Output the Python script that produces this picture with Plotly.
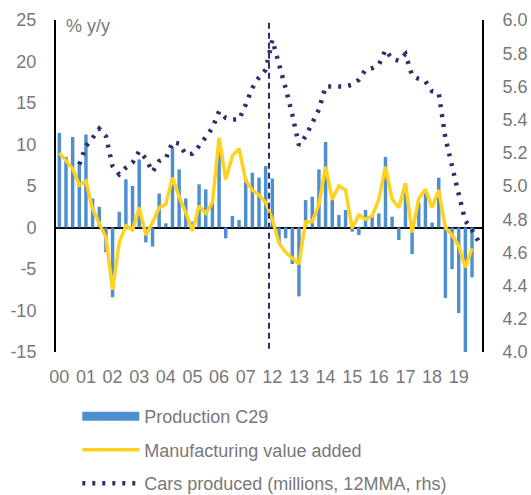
import plotly.graph_objects as go

# ---- data -------------------------------------------------------------
years = ["00", "01", "02", "03", "04", "05", "06", "07",
         "12", "13", "14", "15", "16", "17", "18", "19"]
quarters = [f"{y}Q{q}" for y in years for q in range(1, 5)]

# Production C29, % y/y (quarterly, 00Q1 .. 19Q3)
production_c29 = [
    11.4, 8.5, 10.9, 7.8, 11.2, 3.5, 2.5, -3.0,
    -8.4, 1.9, 5.8, 5.0, 8.2, -1.8, -2.3, 4.1,
    0.5, 9.7, 7.0, 3.5, 0.7, 5.2, 4.6, 3.0,
    9.3, -1.3, 1.4, 0.9, 5.8, 6.6, 6.0, 7.4,
    5.9, -1.9, -1.3, -4.4, -8.3, 3.3, 3.7, 7.0,
    10.3, 3.3, 1.5, 2.1, -0.5, -0.9, 2.1, 1.5,
    1.7, 8.5, 1.3, -1.5, 5.3, -3.2, 3.0, 4.5,
    0.6, 6.0, -8.5, -5.0, -10.3, -15.2, -6.0,
]

# Manufacturing value added, % y/y
manufacturing_va = [
    9.0, 8.1, 7.1, 5.1, 5.6, 2.2, 0.5, -1.2,
    -7.5, -1.8, 0.2, -0.3, 2.4, -0.9, 0.6, 2.4,
    2.8, 6.0, 3.7, 1.8, -0.4, 2.6, 1.7, 3.0,
    10.8, 5.8, 8.6, 9.5, 5.7, 4.5, 3.9, 3.0,
    1.0, -1.9, -3.0, -3.7, -4.4, 0.7, 0.7, 2.8,
    7.3, 3.4, 5.0, 4.5, -0.1, 1.5, 1.0, 1.4,
    3.4, 7.3, 3.4, 2.4, 5.3, -0.6, 3.5, 4.6,
    2.4, 4.5, 0.0, -0.9, -2.2, -4.8, -2.5,
]

# Cars produced, millions, 12MMA (rhs)
cars_produced = [
    None, None, None, 5.13, 5.24, 5.29, 5.345, 5.30,
    5.12, 5.07, 5.11, 5.14, 5.21, 5.165, 5.085, 5.15,
    5.165, 5.265, 5.255, 5.19, 5.195, 5.24, 5.30, 5.35,
    5.45, 5.41, 5.40, 5.40, 5.49, 5.59, 5.655, 5.70,
    5.88, 5.74, 5.59, 5.43, 5.245, 5.30, 5.38, 5.46,
    5.60, 5.60, 5.60, 5.60, 5.61, 5.64, 5.70, 5.71,
    5.73, 5.82, 5.765, 5.755, 5.795, 5.665, 5.645, 5.63,
    5.57, 5.56, 5.29, 5.11, 4.95, 4.79, 4.735, 4.665,
]

left_ticks = [-15, -10, -5, 0, 5, 10, 15, 20, 25]
right_ticks = [4.0, 4.2, 4.4, 4.6, 4.8, 5.0, 5.2, 5.4, 5.6, 5.8, 6.0]
break_position = 31.5   # break between 07 and 12

# ---- style ------------------------------------------------------------
BLUE = "#4E8FD0"
YELLOW = "#FFD21F"
NAVY = "#2B306C"
GREY = "#787878"
FONT = "Liberation Sans, Arial, sans-serif"

fig = go.Figure()

# legend key for the bars (wide bar-like swatch), listed first in the legend
fig.add_trace(go.Scatter(
    x=[None], y=[None], mode="lines",
    line=dict(color=BLUE, width=9),
    name="Production C29", legendgroup="g1",
))
fig.add_trace(go.Bar(
    x=quarters[:len(production_c29)], y=production_c29,
    marker=dict(color=BLUE, line=dict(width=0)),
    name="Production C29", showlegend=False, legendgroup="g1",
))
fig.add_trace(go.Scatter(
    x=quarters[:len(manufacturing_va)], y=manufacturing_va,
    mode="lines", line=dict(color=YELLOW, width=3.5),
    name="Manufacturing value added", legendgroup="g2",
))
fig.add_trace(go.Scatter(
    x=quarters, y=cars_produced, yaxis="y2",
    mode="lines", line=dict(color=NAVY, width=4.5, dash="3px,7px"),
    connectgaps=False,
    name="Cars produced (millions, 12MMA, rhs)", legendgroup="g3",
))

fig.add_shape(
    type="line", xref="x", yref="paper",
    x0=break_position, x1=break_position, y0=0.01, y1=1,
    line=dict(color=NAVY, width=2, dash="6px,4px"),
)

fig.add_annotation(
    text="% y/y", xref="paper", yref="paper",
    x=0.019, y=0.982, xanchor="left", yanchor="middle",
    showarrow=False, font=dict(size=18, color=GREY, family=FONT),
)

fig.update_layout(
    width=531, height=495,
    margin=dict(l=56, r=49, t=20, b=143, autoexpand=False),
    paper_bgcolor="white", plot_bgcolor="white",
    font=dict(family=FONT, size=18, color=GREY),
    bargap=0.48,
    xaxis=dict(
        type="category", categoryorder="array", categoryarray=quarters,
        range=[-0.5, len(quarters) - 0.5],
        tickmode="array", tickvals=[f"{y}Q1" for y in years], ticktext=years,
        showline=False, showgrid=False, zeroline=False, ticks="",
        tickfont=dict(size=18, color=GREY), ticklabelstandoff=12,
    ),
    yaxis=dict(
        range=[-15, 25], tickmode="array", tickvals=left_ticks,
        ticktext=[str(v) for v in left_ticks],
        showline=True, linecolor="black", linewidth=2,
        showgrid=False, zeroline=True, zerolinecolor="black", zerolinewidth=1.5,
        ticks="", tickfont=dict(size=18, color=GREY), ticklabelstandoff=14,
    ),
    yaxis2=dict(
        overlaying="y", side="right", range=[4, 6],
        tickmode="array", tickvals=right_ticks,
        ticktext=[f"{v:.1f}" for v in right_ticks],
        showline=True, linecolor="black", linewidth=2,
        showgrid=False, zeroline=False, ticks="",
        tickfont=dict(size=18, color=GREY), ticklabelstandoff=15,
    ),
    legend=dict(
        orientation="v", x=0.05, y=-0.139, xanchor="left", yanchor="top",
        font=dict(size=18, color=GREY, family=FONT),
        itemwidth=57, tracegroupgap=7, bgcolor="rgba(0,0,0,0)",
        traceorder="grouped",
    ),
)

fig.write_html(
    "out.html",
    config={"displayModeBar": False},
    post_script="document.body.style.margin='0';document.body.style.overflow='hidden';",
)
